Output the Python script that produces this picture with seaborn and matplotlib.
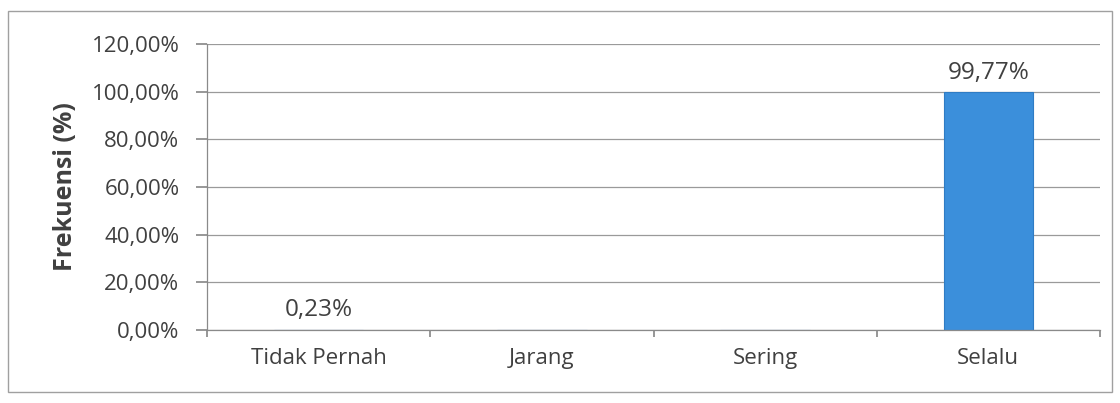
import numpy as np
import pandas as pd
import matplotlib
matplotlib.use("Agg")
import matplotlib.pyplot as plt
import matplotlib.patches as mpatches
import seaborn as sns

# Data
categories = ["Tidak Pernah", "Jarang", "Sering", "Selalu"]
values = [0.23, 0.0, 0.0, 99.77]
value_labels = ["0,23%", "", "", "99,77%"]
y_ticks = [0, 20, 40, 60, 80, 100, 120]

df = pd.DataFrame({"kategori": categories, "frekuensi": values})

sns.set_theme(style="white")
plt.rcParams["font.family"] = ["Open Sans", "DejaVu Sans"]

fig = plt.figure(figsize=(11.2, 4.03), dpi=100)
ax = fig.add_axes([0.185, 0.181, 0.797, 0.710])

sns.barplot(data=df, x="kategori", y="frekuensi", color="#3b8fdb",
            width=0.4, saturation=1, edgecolor="#2f7cc4", linewidth=0.8, ax=ax)

# value labels above bars
for i, (v, lab) in enumerate(zip(values, value_labels)):
    if lab:
        ax.text(i, v + 3, lab, ha="center", va="bottom", fontsize=17.5, color="#404040")

ax.set_ylim(0, 120)
ax.set_xlim(-0.5, 3.5)
ax.set_yticks(y_ticks)
ax.set_yticklabels([f"{t},00%" for t in y_ticks], fontsize=16, color="#404040")
ax.yaxis.grid(True, color="#9a9a9a", linewidth=0.9)
ax.set_axisbelow(True)

# ticks at category boundaries like Excel
ax.set_xticks(np.arange(-0.5, 4, 1))
ax.set_xticklabels([])
ax.set_xticks(range(len(categories)), minor=True)
ax.set_xticklabels(categories, minor=True, fontsize=16, color="#404040")
ax.tick_params(axis="x", which="major", bottom=True, length=5, color="#8a8a8a")
ax.tick_params(axis="x", which="minor", bottom=False, pad=9)
ax.tick_params(axis="y", left=True, length=8, color="#8a8a8a", pad=12)

ax.set_xlabel("")
ax.set_ylabel("Frekuensi (%)", fontsize=18, fontweight="bold", color="#404040", labelpad=10)

for side in ["top", "right"]:
    ax.spines[side].set_visible(False)
for side in ["left", "bottom"]:
    ax.spines[side].set_color("#8a8a8a")
    ax.spines[side].set_linewidth(0.9)

# outer chart frame
frame = mpatches.Rectangle((0.007, 0.027), 0.986, 0.945, transform=fig.transFigure,
                           fill=False, edgecolor="#a0a0a0", linewidth=1.0)
fig.patches.append(frame)

fig.savefig("out.png", dpi=100)
